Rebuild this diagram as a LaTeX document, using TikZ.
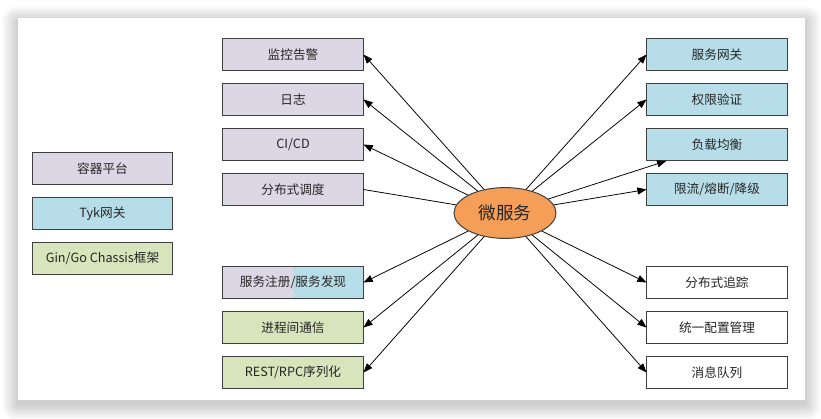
\documentclass[tikz,border=0pt]{standalone}
\usepackage{fontspec}
\setmainfont{Noto Sans CJK SC}
\usetikzlibrary{positioning,arrows.meta,shapes.geometric}
\definecolor{mlav}{HTML}{DCD7E5}
\definecolor{mblue}{HTML}{B7DEE8}
\definecolor{mgreen}{HTML}{D8E4BC}
\definecolor{morange}{HTML}{F49E58}
\definecolor{mline}{HTML}{3F3F3F}
\definecolor{mtext}{HTML}{262626}

\tikzset{
  box/.style={draw=mline, line width=0.7pt, minimum width=3.5cm, minimum height=0.8cm,
    inner sep=0pt, text=mtext, font=\fontsize{9}{11}\selectfont},
  link/.style={line width=0.55pt, -{Triangle[length=6.5pt,width=5pt]}},
}

\begin{document}
\begin{tikzpicture}[x=0.025cm, y=-0.025cm]
\useasboundingbox (0,0) rectangle (821,419);
\fill[white] (0,0) rectangle (821,419);

% card with soft shadow
\foreach \i in {1,...,16}
  \fill[black, opacity=0.011, rounded corners=\i*0.6pt] (18-\i,22-\i) rectangle (805+\i,404+\i);
\fill[white] (18,18) rectangle (805,400);

% legend
\node[box, fill=mlav]   (legplat) at (102.5,168.5) {容器平台};
\node[box, fill=mblue]  (leggw)   at (102.5,213.5) {Tyk网关};
\node[box, fill=mgreen] (legfw)   at (102.5,258)   {Gin/Go Chassis框架};

% centre
\node[ellipse, draw=mline, line width=0.7pt, fill=morange, minimum width=2.55cm,
  minimum height=1.27cm, inner sep=0pt, text=mtext, font=\fontsize{12.5}{14}\selectfont]
  (ms) at (505,213) {微服务};

% left column
\node[box, fill=mlav] (mon)   at (293,54.5)  {监控告警};
\node[box, fill=mlav] (log)   at (293,99.5)  {日志};
\node[box, fill=mlav] (cicd)  at (293,144.5) {CI/CD};
\node[box, fill=mlav] (sched) at (293,189.5) {分布式调度};
\node[box, path picture={
    \fill[mlav] (path picture bounding box.south west) rectangle (path picture bounding box.north);
    \fill[mblue] (path picture bounding box.north) rectangle (path picture bounding box.south east);}]
  (reg)   at (293,282.5) {服务注册/服务发现};
\node[box, fill=mgreen] (ipc) at (293,327.5) {进程间通信};
\node[box, fill=mgreen] (rpc) at (293,372.5) {REST/RPC序列化};

% right column
\node[box, fill=mblue] (gw)    at (717,54.5)  {服务网关};
\node[box, fill=mblue] (auth)  at (717,99.5)  {权限验证};
\node[box, fill=mblue] (lb)    at (717,144.5) {负载均衡};
\node[box, fill=mblue] (limit) at (717,189.5) {限流/熔断/降级};
\node[box] (trace) at (717,282.5) {分布式追踪};
\node[box] (conf)  at (717,327.5) {统一配置管理};
\node[box] (mq)    at (717,372.5) {消息队列};

% connectors
\draw[link] (ms) -- (mon.east);
\draw[link] (ms) -- (log.east);
\draw[link] (ms) -- (cicd.east);
\draw[line width=0.55pt] (ms) -- (sched.east);
\draw[link] (ms) -- (reg.east);
\draw[link] (ms) -- (ipc.east);
\draw[link] (ms) -- (rpc.east);

\draw[link] (ms) -- (gw.west);
\draw[link] (ms) -- (auth.west);
\draw[link] (ms) -- ([xshift=14pt]lb.south west);
\draw[link] (ms) -- (limit.west);
\draw[link] (ms) -- (trace.west);
\draw[link] (ms) -- (conf.west);
\draw[link] (ms) -- (mq.west);

\end{tikzpicture}
\end{document}
